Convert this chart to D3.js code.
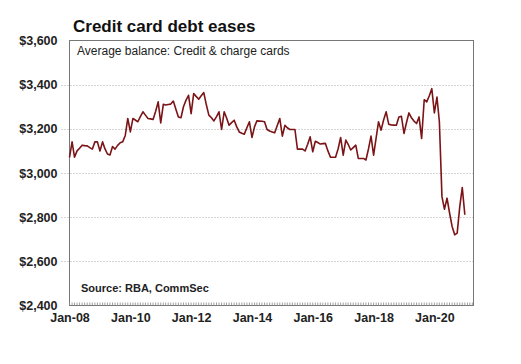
<!DOCTYPE html>
<html>
<head>
<meta charset="utf-8">
<script src="https://cdn.jsdelivr.net/npm/d3@7"></script>
<style>
  body { margin: 0; background: #fff; }
  svg { display: block; font-family: Arial, "Liberation Sans", sans-serif; }
</style>
</head>
<body>
<svg id="chart" width="521" height="364"></svg>
<script>
// average balance, monthly from Jan-08
const startMonth = new Date(2008, 0, 1);
const balance = [
    3071, 3141, 3072, 3100, 3112, 3126, 3124, 3123, 3115, 3108, 3141, 3141, // 2008
    3100, 3141, 3110, 3086, 3082, 3120, 3108, 3125, 3137, 3141, 3170, 3247, // 2009
    3186, 3247, 3240, 3232, 3255, 3277, 3262, 3247, 3245, 3242, 3280, 3322, // 2010
    3227, 3311, 3308, 3310, 3312, 3326, 3290, 3254, 3250, 3300, 3330, 3352, // 2011
    3269, 3360, 3347, 3334, 3350, 3364, 3310, 3262, 3250, 3236, 3255, 3277, // 2012
    3197, 3277, 3250, 3216, 3228, 3239, 3210, 3186, 3180, 3176, 3205, 3232, // 2013
    3161, 3210, 3236, 3235, 3234, 3232, 3197, 3190, 3186, 3182, 3215, 3247, // 2014
    3167, 3216, 3205, 3197, 3197, 3197, 3108, 3108, 3108, 3100, 3130, 3164, // 2015
    3096, 3144, 3138, 3131, 3133, 3134, 3100, 3071, 3071, 3071, 3110, 3161, // 2016
    3081, 3149, 3130, 3104, 3115, 3126, 3066, 3066, 3066, 3059, 3110, 3167, // 2017
    3081, 3160, 3232, 3194, 3240, 3277, 3221, 3218, 3217, 3216, 3254, 3257, // 2018
    3179, 3230, 3272, 3250, 3235, 3224, 3254, 3156, 3332, 3322, 3350, 3382, // 2019
    3272, 3344, 3232, 2893, 2836, 2886, 2820, 2758, 2720, 2728, 2848, 2934, // 2020
    2811                                                                    // 2021
];
const yTicks = [2400, 2600, 2800, 3000, 3200, 3400, 3600];
const xTickYears = [2008, 2010, 2012, 2014, 2016, 2018, 2020];

const titleText = 'Credit card debt eases';
const subtitleText = 'Average balance: Credit & charge cards';
const sourceText = 'Source: RBA, CommSec';

const svg = d3.select('#chart');
const box = {left: 69.5, right: 473.5, top: 40.5, bottom: 305.5};

const data = balance.map((v, i) => ({
    date: new Date(startMonth.getFullYear(), startMonth.getMonth() + i, 1),
    value: v
}));

const x = d3.scaleTime()
    .domain([new Date(2008, 0, 1), new Date(2021, 3, 15)])
    .range([box.left, box.right]);

const y = d3.scaleLinear()
    .domain([2400, 3600])
    .range([box.bottom, box.top]);

// grid lines (dotted), running a little left of the box
svg.append('g')
    .selectAll('line')
    .data(yTicks.slice(1, -1))
    .join('line')
    .attr('x1', box.left - 8)
    .attr('x2', box.right)
    .attr('y1', d => Math.round(y(d)) + 0.5)
    .attr('y2', d => Math.round(y(d)) + 0.5)
    .attr('stroke', '#aaa')
    .attr('stroke-width', 1)
    .attr('stroke-dasharray', '1,2');

// plot frame
svg.append('rect')
    .attr('x', box.left)
    .attr('y', box.top)
    .attr('width', box.right - box.left)
    .attr('height', box.bottom - box.top)
    .attr('fill', 'none')
    .attr('stroke', '#777')
    .attr('stroke-width', 1);

// y axis labels
const yAxis = d3.axisLeft(y)
    .tickValues(yTicks)
    .tickSize(0)
    .tickPadding(12)
    .tickFormat(d => '$' + d3.format(',')(d));

svg.append('g')
    .attr('transform', `translate(${box.left},0)`)
    .call(yAxis)
    .call(g => g.select('.domain').remove())
    .call(g => g.selectAll('text')
        .attr('font-size', 12.5)
        .attr('font-weight', 'bold')
        .attr('fill', '#222')
        .attr('font-family', 'Arial, "Liberation Sans", sans-serif'));

// monthly minor ticks along the bottom, pointing up
const monthTicks = d3.timeMonth.range(new Date(2008, 0, 1), new Date(2021, 4, 1));
svg.append('g')
    .selectAll('line')
    .data(monthTicks)
    .join('line')
    .attr('x1', d => x(d))
    .attr('x2', d => x(d))
    .attr('y1', box.bottom)
    .attr('y2', box.bottom - 3)
    .attr('stroke', '#888')
    .attr('stroke-width', 0.8);

// x axis labels
const xAxis = d3.axisBottom(x)
    .tickValues(xTickYears.map(yr => new Date(yr, 0, 1)))
    .tickSize(0)
    .tickPadding(8)
    .tickFormat(d3.timeFormat('%b-%y'));

svg.append('g')
    .attr('transform', `translate(0,${box.bottom})`)
    .call(xAxis)
    .call(g => g.select('.domain').remove())
    .call(g => g.selectAll('text')
        .attr('font-size', 12.5)
        .attr('font-weight', 'bold')
        .attr('fill', '#222')
        .attr('font-family', 'Arial, "Liberation Sans", sans-serif'));

// series
const line = d3.line()
    .x(d => x(d.date))
    .y(d => y(d.value));

svg.append('path')
    .datum(data)
    .attr('d', line)
    .attr('fill', 'none')
    .attr('stroke', '#7b1416')
    .attr('stroke-width', 1.6)
    .attr('stroke-linejoin', 'round');

// texts
svg.append('text')
    .attr('x', 73)
    .attr('y', 32)
    .attr('font-size', 17)
    .attr('font-weight', 'bold')
    .attr('fill', '#111')
    .text(titleText);

svg.append('text')
    .attr('x', 77)
    .attr('y', 55)
    .attr('font-size', 12)
    .attr('fill', '#222')
    .text(subtitleText);

svg.append('text')
    .attr('x', 81)
    .attr('y', 292)
    .attr('font-size', 11)
    .attr('font-weight', 'bold')
    .attr('fill', '#222')
    .text(sourceText);
</script>
</body>
</html>
